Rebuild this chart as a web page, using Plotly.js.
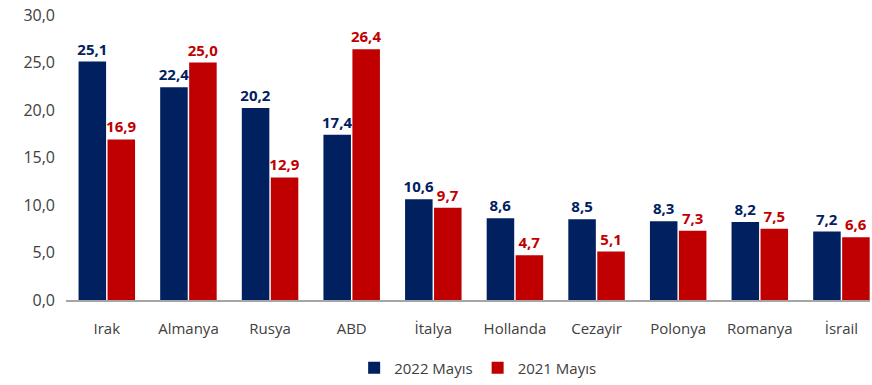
<!DOCTYPE html>
<html><head><meta charset="utf-8">
<script src="https://cdn.plot.ly/plotly-3.0.1.min.js"></script>
<style>html,body{margin:0;padding:0;background:#fff}#c{width:872px;height:385px}</style>
</head><body><div id="c"></div>
<script>
const categories = ["Irak","Almanya","Rusya","ABD","İtalya","Hollanda","Cezayir","Polonya","Romanya","İsrail"];
const may2022 = [25.1,22.4,20.2,17.4,10.6,8.6,8.5,8.3,8.2,7.2];
const may2021 = [16.9,25.0,12.9,26.4,9.7,4.7,5.1,7.3,7.5,6.6];
const seriesNames = ["2022 Mayıs","2021 Mayıs"];
const yTicks = [0,5,10,15,20,25,30];

const navy = "#002060", red = "#C00000";
const font = "'Open Sans', Lato, sans-serif";
function tr(name, vals, color){
  return {type:"bar", name:name, x:categories, y:vals, marker:{color:color},
    texttemplate:"%{y:.1f}", textposition:"outside", cliponaxis:false, constraintext:"none",
    textfont:{family:font, size:15, color:color, weight:"bold"},
    hoverinfo:"skip"};
}
Plotly.newPlot("c",[tr(seriesNames[0],may2022,navy),tr(seriesNames[1],may2021,red)],{
  width:872,height:385,separators:",.",
  margin:{l:66,r:2,t:15,b:85},
  barmode:"group",bargap:0.29,bargroupgap:0.05,
  paper_bgcolor:"#fff",plot_bgcolor:"#fff",
  font:{family:font,size:15,color:"#404040"},
  xaxis:{range:[-0.5,9.35],showline:true,linecolor:"#a6a6a6",linewidth:1.5,ticks:"",ticklabelstandoff:14,tickfont:{size:15,color:"#404040"}},
  yaxis:{range:[0,30],tickvals:yTicks,tickformat:".1f",showgrid:false,zeroline:false,showline:false,ticks:"",ticklabelstandoff:10,tickfont:{size:16,color:"#404040"}},
  legend:{orientation:"h",x:0.512,xanchor:"center",yref:"container",y:0.044,yanchor:"middle",font:{size:15,color:"#404040"}},
  showlegend:true
},{displayModeBar:false,staticPlot:true});
</script></body></html>
